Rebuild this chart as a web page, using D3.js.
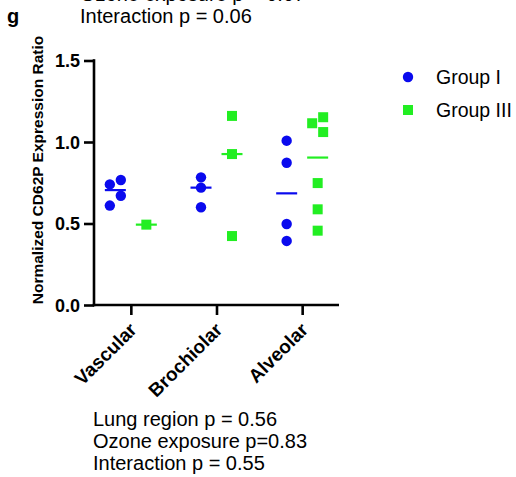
<!DOCTYPE html>
<html>
<head>
<meta charset="utf-8">
<script src="https://cdn.jsdelivr.net/npm/d3@7"></script>
<style>
  body { margin: 0; background: #fff; }
  svg { display: block; font-family: "Liberation Sans", Arial, sans-serif; }
</style>
</head>
<body>
<div id="chart"></div>
<script>
// data
var categories = ["Vascular", "Brochiolar", "Alveolar"];
var groups = ["Group I", "Group III"];
var groupI = [[0.767, 0.74, 0.67, 0.61], [0.783, 0.72, 0.60], [1.008, 0.873, 0.497, 0.393]];
var groupIII = [[0.493], [1.16, 0.926, 0.423], [1.152, 1.115, 1.061, 0.748, 0.587, 0.456]];
var yTicks = [0.0, 0.5, 1.0, 1.5];
var topNotes = ["Ozone exposure p = 0.07", "Interaction p = 0.06"];
var bottomNotes = ["Lung region p = 0.56", "Ozone exposure p=0.83", "Interaction p = 0.55"];

var colors = {"Group I": "#0a0aee", "Group III": "#22ee22"};

var width = 516, height = 477;
var svg = d3.select("#chart").append("svg")
    .attr("width", width)
    .attr("height", height);

var x = d3.scalePoint()
    .domain(categories)
    .range([94, 339])
    .padding(0.43);

var xg = d3.scalePoint()
    .domain(groups)
    .range([-15.5, 15.5]);

var y = d3.scaleLinear()
    .domain([0, 1.5])
    .range([305, 60.5]);

// y axis
var yAxis = svg.append("g")
    .attr("transform", "translate(94,0)")
    .call(d3.axisLeft(y).tickValues(yTicks).tickFormat(d3.format(".1f")).tickSize(10).tickSizeOuter(0).tickPadding(4));

// x axis
var xAxis = svg.append("g")
    .attr("transform", "translate(0,305)")
    .call(d3.axisBottom(x).tickSize(10).tickSizeOuter(0).tickFormat(""));

[yAxis, xAxis].forEach(function(a) {
    a.select(".domain").attr("stroke", "#000").attr("stroke-width", 2.6);
    a.selectAll(".tick line").attr("stroke", "#000").attr("stroke-width", 2.6);
});
yAxis.select(".domain").attr("d", "M0," + (y(1.5) - 1.3) + "V" + (y(0) + 1.3));
xAxis.select(".domain").attr("d", "M" + 92.7 + ",0H339");

yAxis.selectAll(".tick text")
    .attr("fill", "#000")
    .style("font-size", "18px")
    .style("font-weight", "bold")
    .attr("dy", "0.36em");

// rotated category labels
svg.append("g").selectAll("text")
    .data(categories)
  .enter().append("text")
    .attr("transform", function(d) { return "translate(" + (x(d) + 7) + ",331) rotate(-45)"; })
    .attr("text-anchor", "end")
    .style("font-size", "19px")
    .style("font-weight", "bold")
    .text(function(d) { return d; });

// y axis title
svg.append("text")
    .attr("transform", "translate(43,170) rotate(-90)")
    .attr("text-anchor", "middle")
    .style("font-size", "15.5px")
    .style("font-weight", "bold")
    .text("Normalized CD62P Expression Ratio");

// simple swarm: neighbours closer than one marker get pushed left/right
function swarm(values) {
    var sorted = values.slice().sort(d3.descending);
    var out = [], run = 0;
    sorted.forEach(function(v, i) {
        if (i > 0 && Math.abs(y(v) - y(sorted[i - 1])) < 10) {
            run++;
            if (run === 1) out[i - 1].dx = 5.5;
        } else {
            run = 0;
        }
        out.push({v: v, dx: run === 0 ? 0 : (run % 2 === 1 ? -5.5 : 5.5)});
    });
    return out;
}

var series = [
    {name: "Group I", values: groupI},
    {name: "Group III", values: groupIII}
];

series.forEach(function(s) {
    var g = svg.append("g");
    categories.forEach(function(c, ci) {
        var cx = x(c) + xg(s.name);
        var pts = swarm(s.values[ci]);
        if (s.name === "Group I") {
            g.selectAll(null).data(pts).enter().append("circle")
                .attr("cx", function(d) { return cx + d.dx; })
                .attr("cy", function(d) { return y(d.v); })
                .attr("r", 5.2)
                .attr("fill", colors[s.name]);
        } else {
            g.selectAll(null).data(pts).enter().append("rect")
                .attr("x", function(d) { return cx + d.dx - 5; })
                .attr("y", function(d) { return y(d.v) - 5; })
                .attr("width", 10)
                .attr("height", 10)
                .attr("fill", colors[s.name]);
        }
        var med = d3.median(s.values[ci]);
        g.append("line")
            .attr("x1", cx - 10.5)
            .attr("x2", cx + 10.5)
            .attr("y1", y(med))
            .attr("y2", y(med))
            .attr("stroke", colors[s.name])
            .attr("stroke-width", 2.2);
    });
});

// legend
var legend = svg.append("g");
groups.forEach(function(gname, i) {
    var ly = 77 + i * 33;
    if (i === 0) {
        legend.append("circle").attr("cx", 408).attr("cy", ly).attr("r", 5.2).attr("fill", colors[gname]);
    } else {
        legend.append("rect").attr("x", 403).attr("y", ly - 5).attr("width", 10).attr("height", 10).attr("fill", colors[gname]);
    }
    legend.append("text")
        .attr("x", 436)
        .attr("y", ly + 6.5)
        .style("font-size", "19.5px")
        .text(gname);
});

// panel letter and notes
svg.append("text")
    .attr("x", 7)
    .attr("y", 23)
    .style("font-size", "20px")
    .style("font-weight", "bold")
    .text("g");

svg.append("g").selectAll("text")
    .data(topNotes)
  .enter().append("text")
    .attr("x", 80)
    .attr("y", function(d, i) { return 1 + i * 22; })
    .style("font-size", "20px")
    .text(function(d) { return d; });

svg.append("g").selectAll("text")
    .data(bottomNotes)
  .enter().append("text")
    .attr("x", 93)
    .attr("y", function(d, i) { return 426 + i * 22; })
    .style("font-size", "20px")
    .text(function(d) { return d; });
</script>
</body>
</html>
